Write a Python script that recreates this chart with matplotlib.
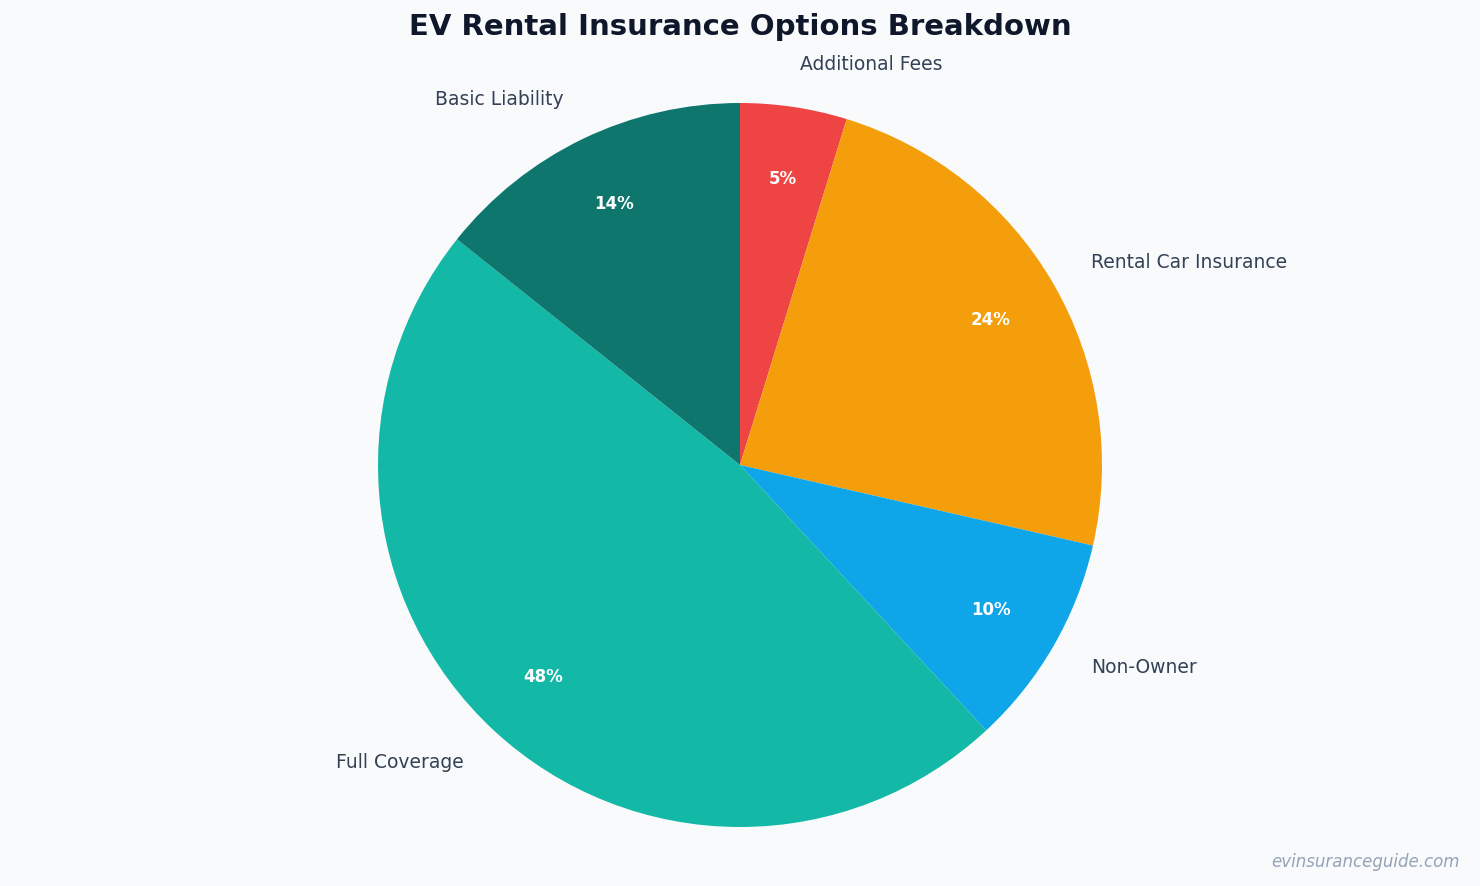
import matplotlib
matplotlib.use("Agg")
import matplotlib.pyplot as plt

categories = ["Additional Fees", "Rental Car Insurance", "Non-Owner", "Full Coverage", "Basic Liability"]
values = [50, 250, 100, 500, 150]
colors = ["#EF4444", "#F59E0B", "#0EA5E9", "#14B8A6", "#0F766E"]

bg = "#F8FAFC"
fig = plt.figure(figsize=(14.8, 8.86), dpi=100, facecolor=bg)
ax = fig.add_axes([(740 - 362) / 1480, (886 - 827) / 886, 724 / 1480, 724 / 886])
ax.set_facecolor(bg)

wedges, texts, autotexts = ax.pie(
    values, labels=categories, colors=colors, startangle=90, counterclock=False,
    autopct="%.0f%%", pctdistance=0.8, labeldistance=1.12,
    textprops=dict(color="#334155", fontsize=13.5),
    wedgeprops=dict(linewidth=0),
)
for t in autotexts:
    t.set_color("white")
    t.set_fontweight("bold")
    t.set_fontsize(12)
ax.set_xlim(-1, 1)
ax.set_ylim(-1, 1)
ax.set_aspect("equal")
ax.axis("off")

fig.text(0.5, 1 - 27 / 886, "EV Rental Insurance Options Breakdown", ha="center", va="center",
         fontsize=21, fontweight="bold", color="#0F172A")
fig.text(1 - 20 / 1480, (886 - 862) / 886, "evinsuranceguide.com", ha="right", va="center",
         fontsize=12, style="italic", color="#94A3B8")

fig.savefig("out.png", dpi=100, facecolor=bg)
